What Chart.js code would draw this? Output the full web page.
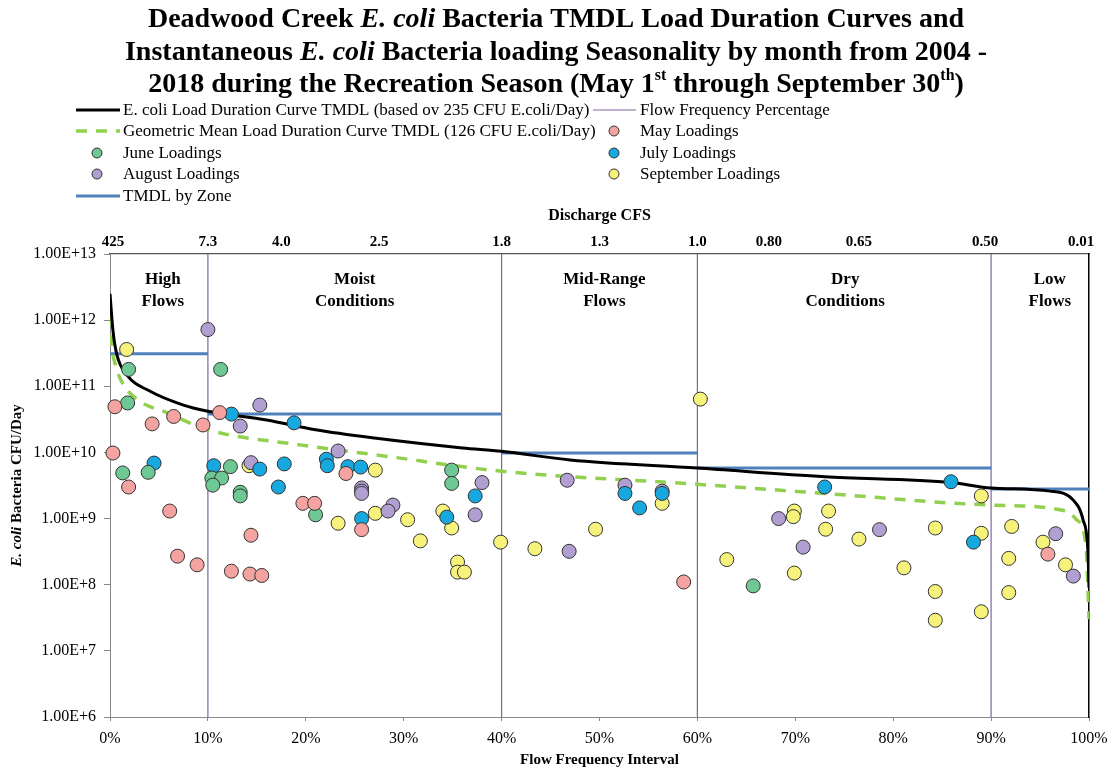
<!DOCTYPE html>
<html>
<head>
<meta charset="utf-8">
<script src="https://cdn.jsdelivr.net/npm/chart.js@4/dist/chart.umd.min.js"></script>
<style>
  html, body { margin: 0; padding: 0; background: #ffffff; }
  #wrap { width: 1112px; height: 770px; position: relative; }
</style>
</head>
<body>
<div id="wrap"><canvas id="c"></canvas></div>
<script>
// ---------------- DATA ----------------
// Flow frequency interval (%) and loads (CFU E. coli/day)
const ldcPct  = [0, 0.3, 0.7, 1.7, 4.1, 7.5, 10, 16, 21, 27, 36, 40, 47, 60, 73, 86, 90, 96, 98.4, 99.4, 99.9, 100];
const ldcLoad = [2.5e12, 7e11, 3e11, 1.5e11, 8.4e10, 5.2e10, 4.2e10, 3.1e10, 2.2e10, 1.65e10, 1.17e10, 1.04e10, 7.7e9, 5.8e9, 4.3e9, 3.5e9, 2.9e9, 2.6e9, 1.9e9, 9.5e8, 3e8, 9e7];

const gmPct  = [0, 0.2, 0.6, 1.3, 3, 5.8, 10, 19.4, 27.6, 40, 60, 73, 90, 97.7, 98.7, 99.7, 100];
const gmLoad = [1.2e12, 4e11, 2e11, 1.1e11, 6e10, 4e10, 2.2e10, 1.3e10, 9e9, 5.2e9, 3.3e9, 2.4e9, 1.6e9, 1.3e9, 9.7e8, 3.8e8, 3e7];

const zoneStart = [0, 10, 40, 60, 90];
const zoneEnd   = [10, 40, 60, 90, 100];
const zoneTmdl  = [3.1e11, 3.8e10, 9.8e9, 5.8e9, 2.8e9];
const zoneBoundaries = [10, 40, 60, 90];
const zoneNames = [["High", "Flows"], ["Moist", "Conditions"], ["Mid-Range", "Flows"], ["Dry", "Conditions"], ["Low", "Flows"]];

const mayLoads = [[0.5,4.9e10],[6.5,3.5e10],[11.2,4.0e10],[4.3,2.7e10],[9.5,2.6e10],[0.3,9.8e9],[1.9,3.0e9],[6.1,1.3e9],[19.7,1.7e9],[20.9,1.7e9],[24.1,4.8e9],[25.7,6.8e8],[14.4,5.6e8],[6.9,2.7e8],[8.9,2.0e8],[12.4,1.6e8],[14.3,1.45e8],[15.5,1.38e8],[58.6,1.1e8],[95.8,2.9e8]];
const juneLoads = [[1.9,1.8e11],[11.3,1.8e11],[1.8,5.6e10],[1.3,4.9e9],[3.9,5.0e9],[12.3,6.1e9],[10.4,4.1e9],[11.4,4.1e9],[10.5,3.2e9],[13.3,2.5e9],[13.3,2.2e9],[21.0,1.14e9],[34.9,5.4e9],[34.9,3.4e9],[65.7,9.6e7]];
const julyLoads = [[12.4,3.8e10],[18.8,2.8e10],[4.5,6.9e9],[10.6,6.3e9],[15.3,5.6e9],[17.8,6.7e9],[17.2,3.0e9],[22.1,7.9e9],[22.2,6.3e9],[24.3,6.1e9],[25.6,6.0e9],[25.7,1.0e9],[37.3,2.2e9],[34.4,1.05e9],[52.6,2.4e9],[54.1,1.45e9],[56.4,2.4e9],[73.0,3.0e9],[85.9,3.6e9],[88.2,4.4e8]];
const augustLoads = [[10.0,7.2e11],[15.3,5.2e10],[13.3,2.5e10],[23.3,1.05e10],[14.4,7.0e9],[25.7,2.9e9],[25.7,2.6e9],[25.7,2.4e9],[38.0,3.5e9],[37.3,1.14e9],[28.9,1.6e9],[28.4,1.3e9],[46.7,3.8e9],[46.9,3.2e8],[52.6,3.2e9],[56.4,2.6e9],[68.3,1.0e9],[70.8,3.7e8],[78.6,6.8e8],[96.6,5.9e8],[98.4,1.35e8]];
const septemberLoads = [[1.7,3.6e11],[14.2,6.3e9],[27.1,5.4e9],[27.1,1.2e9],[23.3,8.5e8],[30.4,9.6e8],[34.0,1.3e9],[34.9,7.2e8],[31.7,4.6e8],[39.9,4.4e8],[35.5,2.2e8],[35.5,1.55e8],[36.2,1.55e8],[43.4,3.5e8],[49.6,6.9e8],[56.4,1.7e9],[60.3,6.4e10],[63.0,2.4e8],[69.9,1.3e9],[69.8,1.07e9],[69.9,1.5e8],[73.4,1.3e9],[73.1,6.9e8],[76.5,4.9e8],[81.1,1.8e8],[84.3,7.2e8],[84.3,7.9e7],[84.3,2.9e7],[89.0,2.2e9],[89.0,6.0e8],[89.0,3.9e7],[92.1,7.6e8],[91.8,2.5e8],[91.8,7.6e7],[95.3,4.4e8],[97.6,2.0e8]];

const yTickValues = [1e6, 1e7, 1e8, 1e9, 1e10, 1e11, 1e12, 1e13];
const xTickValues = [0, 10, 20, 30, 40, 50, 60, 70, 80, 90, 100];
const dischargePct    = [0.3, 10, 17.5, 27.5, 40, 50, 60, 67.3, 76.5, 89.4, 99.2];
const dischargeLabels = ["425", "7.3", "4.0", "2.5", "1.8", "1.3", "1.0", "0.80", "0.65", "0.50", "0.01"];

// ---------------- STYLE ----------------
const SERIF = '"Liberation Serif", "Times New Roman", serif';
const C = {
  ldc: '#000000', gm: '#92D050', zone: '#4F81BD', flow: '#8064A2',
  may: '#F4A3A0', june: '#6DC893', july: '#17A8E0', aug: '#B19FD2', sep: '#F6F27B', edge: '#333333'
};
const Y_MIN = yTickValues[0], Y_MAX = yTickValues[yTickValues.length - 1];

const toXY = arr => arr.map(p => ({ x: p[0], y: p[1] }));
const scatterDs = (label, arr, color) => ({
  type: 'scatter', label, data: toXY(arr), backgroundColor: color, borderColor: C.edge,
  borderWidth: 1, pointRadius: 7, pointHoverRadius: 7, clip: false
});

const datasets = [
  scatterDs('May Loadings', mayLoads, C.may),
  scatterDs('June Loadings', juneLoads, C.june),
  scatterDs('July Loadings', julyLoads, C.july),
  scatterDs('August Loadings', augustLoads, C.aug),
  scatterDs('September Loadings', septemberLoads, C.sep),
  { type: 'line', label: 'E. coli Load Duration Curve TMDL (based ov 235 CFU E.coli/Day)',
    data: ldcPct.map((x, i) => ({ x, y: ldcLoad[i] })), borderColor: C.ldc, borderWidth: 3,
    pointRadius: 0, tension: 0.4, cubicInterpolationMode: 'monotone', fill: false },
  { type: 'line', label: 'Geometric Mean Load Duration Curve TMDL (126 CFU E.coli/Day)',
    data: gmPct.map((x, i) => ({ x, y: gmLoad[i] })), borderColor: C.gm, borderWidth: 3.5,
    borderDash: [11, 9], pointRadius: 0, cubicInterpolationMode: 'monotone', fill: false },
  { type: 'line', label: 'TMDL by Zone',
    data: zoneStart.flatMap((s, i) => [{ x: s, y: zoneTmdl[i] }, { x: zoneEnd[i], y: zoneTmdl[i] }, { x: zoneEnd[i], y: null }]),
    borderColor: C.zone, borderWidth: 3, pointRadius: 0, spanGaps: false, fill: false },
  { type: 'line', label: 'Flow Frequency Percentage',
    data: zoneBoundaries.flatMap(b => [{ x: b, y: Y_MIN }, { x: b, y: Y_MAX }, { x: b, y: null }]),
    borderColor: C.flow, borderWidth: 1.2, pointRadius: 0, spanGaps: false, fill: false }
];

// ---------------- TEXT HELPERS ----------------
function richWidth(ctx, segs) {
  let w = 0;
  for (const s of segs) { ctx.font = s.font; w += ctx.measureText(s.t).width; }
  return w;
}
function drawRich(ctx, segs, x, y, align) {
  const w = richWidth(ctx, segs);
  let cx = align === 'center' ? x - w / 2 : x;
  for (const s of segs) {
    ctx.font = s.font;
    ctx.fillText(s.t, cx, y + (s.dy || 0));
    cx += ctx.measureText(s.t).width;
  }
}

const TB = 'bold 28px ' + SERIF, TI = 'italic bold 28px ' + SERIF, TS = 'bold 16px ' + SERIF;
const titleLines = [
  [{ t: 'Deadwood Creek ', font: TB }, { t: 'E. coli', font: TI }, { t: ' Bacteria TMDL Load Duration Curves and', font: TB }],
  [{ t: 'Instantaneous ', font: TB }, { t: 'E. coli', font: TI }, { t: ' Bacteria loading Seasonality by month from 2004 -', font: TB }],
  [{ t: '2018 during the Recreation Season (May 1', font: TB }, { t: 'st', font: TS, dy: -12 }, { t: ' through September 30', font: TB }, { t: 'th', font: TS, dy: -12 }, { t: ')', font: TB }]
];

const legendItems = [
  { col: 0, row: 0, kind: 'line', color: C.ldc, w: 3, text: 'E. coli Load Duration Curve TMDL (based ov 235 CFU E.coli/Day)' },
  { col: 1, row: 0, kind: 'line', color: C.flow, w: 1.2, text: 'Flow Frequency Percentage' },
  { col: 0, row: 1, kind: 'dash', color: C.gm, w: 3.5, text: 'Geometric Mean Load Duration Curve TMDL (126 CFU E.coli/Day)' },
  { col: 1, row: 1, kind: 'dot', color: C.may, text: 'May Loadings' },
  { col: 0, row: 2, kind: 'dot', color: C.june, text: 'June Loadings' },
  { col: 1, row: 2, kind: 'dot', color: C.july, text: 'July Loadings' },
  { col: 0, row: 3, kind: 'dot', color: C.aug, text: 'August Loadings' },
  { col: 1, row: 3, kind: 'dot', color: C.sep, text: 'September Loadings' },
  { col: 0, row: 4, kind: 'line', color: C.zone, w: 3, text: 'TMDL by Zone' }
];
const LEG = { rowY: [110, 131, 153, 174, 196], lineX0: [76, 593], lineX1: [120, 636], dotX: [97, 614], textX: [123, 640], font: '17px ' + SERIF };

const decorPlugin = {
  id: 'decor',
  afterDraw(chart) {
    const ctx = chart.ctx;
    const ca = chart.chartArea;
    ctx.save();
    ctx.fillStyle = '#000';
    ctx.textBaseline = 'alphabetic';
    // Title
    const baselines = [27, 60, 92];
    titleLines.forEach((segs, i) => drawRich(ctx, segs, chart.width / 2, baselines[i], 'center'));
    // Legend
    ctx.textBaseline = 'middle';
    for (const it of legendItems) {
      const y = LEG.rowY[it.row];
      ctx.save();
      if (it.kind === 'line' || it.kind === 'dash') {
        ctx.strokeStyle = it.color; ctx.lineWidth = it.w;
        ctx.setLineDash(it.kind === 'dash' ? [11, 9] : []);
        ctx.beginPath(); ctx.moveTo(LEG.lineX0[it.col], y); ctx.lineTo(LEG.lineX1[it.col], y); ctx.stroke();
      } else {
        ctx.fillStyle = it.color; ctx.strokeStyle = C.edge; ctx.lineWidth = 1;
        ctx.beginPath(); ctx.arc(LEG.dotX[it.col], y, 5, 0, Math.PI * 2); ctx.fill(); ctx.stroke();
      }
      ctx.restore();
      ctx.font = LEG.font; ctx.fillStyle = '#000';
      ctx.fillText(it.text, LEG.textX[it.col], y + 1);
    }
    // Zone labels
    const xs = chart.scales.x;
    const zoneLabelPct = [5.4, 25, 50.5, 75.1, 96];
    ctx.font = 'bold 17px ' + SERIF;
    ctx.textAlign = 'center';
    zoneNames.forEach((lines, i) => {
      const px = xs.getPixelForValue(zoneLabelPct[i]);
      lines.forEach((ln, j) => ctx.fillText(ln, px, ca.top + 26 + j * 22));
    });
    // Y axis title (rotated, with italic part)
    ctx.textAlign = 'left';
    ctx.textBaseline = 'middle';
    ctx.translate(17, (ca.top + ca.bottom) / 2);
    ctx.rotate(-Math.PI / 2);
    const ySegs = [{ t: 'E. coli', font: 'italic bold 15px ' + SERIF }, { t: ' Bacteria CFU/Day', font: 'bold 15px ' + SERIF }];
    drawRich(ctx, ySegs, 0, 0, 'center');
    ctx.restore();
  }
};

const noSidePadding = s => { s.paddingLeft = 0; s.paddingRight = 0; };

new Chart(document.getElementById('c'), {
  type: 'scatter',
  data: { datasets },
  plugins: [decorPlugin],
  options: {
    responsive: true,
    maintainAspectRatio: false,
    devicePixelRatio: 1,
    animation: false,
    layout: { padding: { top: 200, left: 0, right: 23, bottom: 0 } },
    plugins: { legend: { display: false }, title: { display: false }, tooltip: { enabled: false } },
    scales: {
      x: {
        type: 'linear', position: 'bottom', min: 0, max: 100,
        afterFit: s => { s.height = 53; noSidePadding(s); },
        afterBuildTicks: s => { s.ticks = xTickValues.map(v => ({ value: v })); },
        ticks: { callback: v => v + '%', color: '#000', font: { family: SERIF, size: 16 }, padding: 8, maxRotation: 0, autoSkip: false },
        grid: { drawOnChartArea: false, drawTicks: true, tickLength: 4, color: '#888' },
        border: { color: '#888', width: 1 },
        title: { display: true, text: 'Flow Frequency Interval', color: '#000', font: { family: SERIF, size: 15, weight: 'bold' }, padding: { top: 0, bottom: 1 } }
      },
      x2: {
        type: 'linear', position: 'top', min: 0, max: 100,
        afterFit: s => { s.height = 54; noSidePadding(s); },
        afterBuildTicks: s => { s.ticks = dischargePct.map(v => ({ value: v })); },
        ticks: { callback: (v, i) => dischargeLabels[i], color: '#000', font: { family: SERIF, size: 15, weight: 'bold' }, padding: 3, maxRotation: 0, autoSkip: false },
        grid: { drawOnChartArea: false, drawTicks: false },
        border: { color: '#555', width: 1.2 },
        title: { display: true, text: 'Discharge CFS', color: '#000', font: { family: SERIF, size: 16, weight: 'bold' }, padding: { top: 6, bottom: 0 } }
      },
      y: {
        type: 'logarithmic', position: 'left', min: Y_MIN, max: Y_MAX,
        afterFit: s => { s.width = 110; s.paddingTop = 0; s.paddingBottom = 0; },
        afterBuildTicks: s => { s.ticks = yTickValues.map(v => ({ value: v })); },
        ticks: { callback: v => Number(v).toExponential(2).toUpperCase(), color: '#000', font: { family: SERIF, size: 16 }, padding: 8, autoSkip: false },
        grid: { drawOnChartArea: false, drawTicks: true, tickLength: 6, color: '#888' },
        border: { color: '#888', width: 1 }
      },
      y2: {
        type: 'linear', position: 'right', min: 0, max: 1,
        afterFit: s => { s.width = 0; },
        ticks: { display: false },
        grid: { drawOnChartArea: false, drawTicks: false },
        border: { color: '#000', width: 1.5 }
      }
    }
  }
});
</script>
</body>
</html>
